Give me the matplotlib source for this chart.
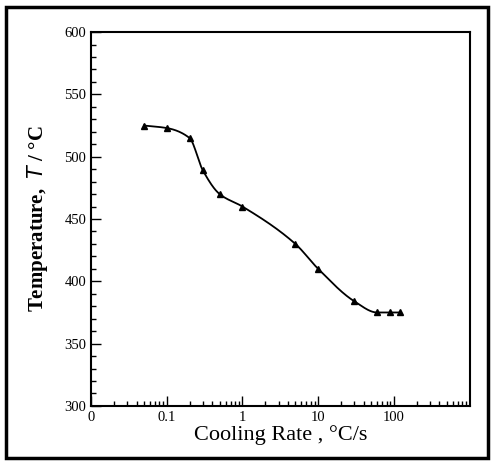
import numpy as np
import matplotlib.pyplot as plt
from matplotlib.patches import Rectangle
from matplotlib.ticker import FixedLocator, LogLocator, NullFormatter, MultipleLocator

# datos
rate = [0.05, 0.1, 0.2, 0.3, 0.5, 1, 5, 10, 30, 60, 90, 120]
temp = [525, 523, 515, 489, 470, 460, 430, 410, 384, 375, 375, 375]
xticks = [0.01, 0.1, 1, 10, 100]
xlabels = ["0", "0.1", "1", "10", "100"]

#curva suave tipo PCHIP en escala log
def pchip(x, y, xn):
    x = np.asarray(x, float)
    y = np.asarray(y, float)
    h = np.diff(x)
    d = np.diff(y) / h
    m = np.zeros_like(y)
    for k in range(1, len(x) - 1):
        if d[k-1] * d[k] > 0:
            w1 = 2*h[k] + h[k-1]
            w2 = h[k] + 2*h[k-1]
            m[k] = (w1 + w2) / (w1/d[k-1] + w2/d[k])
    m[0] = d[0]
    m[-1] = d[-1]
    idx = np.clip(np.searchsorted(x, xn) - 1, 0, len(h) - 1)
    t = (xn - x[idx]) / h[idx]
    h00 = 2*t**3 - 3*t**2 + 1
    h10 = t**3 - 2*t**2 + t
    h01 = -2*t**3 + 3*t**2
    h11 = t**3 - t**2
    return h00*y[idx] + h10*h[idx]*m[idx] + h01*y[idx+1] + h11*h[idx]*m[idx+1]

lx = np.log10(rate)
xs = np.linspace(lx[0], lx[-1], 400)
ys = pchip(lx, temp, xs)

plt.rcParams['font.family'] = ['Liberation Serif', 'DejaVu Serif']
fig = plt.figure(figsize=(4.93, 4.65), dpi=100)
ax = fig.add_axes([0.1846, 0.127, 0.768, 0.804])

ax.plot(10**xs, ys, color="black", lw=1.3)
ax.plot(rate, temp, linestyle="none", marker="^", color="black", ms=5)

ax.set_xscale("log")
ax.set_xlim(0.01, 1000)
ax.set_ylim(300, 600)
ax.xaxis.set_major_locator(FixedLocator(xticks))
ax.set_xticklabels(xlabels)
ax.xaxis.set_minor_locator(LogLocator(base=10, subs=np.arange(2, 10)))
ax.xaxis.set_minor_formatter(NullFormatter())
ax.yaxis.set_major_locator(MultipleLocator(50))
ax.yaxis.set_minor_locator(MultipleLocator(10))

ax.tick_params(which="both", direction="in", top=False, right=False, labelsize=10.5, width=1)
ax.tick_params(which="major", length=7)
ax.tick_params(which="minor", length=3.5)
for s in ax.spines.values():
    s.set_linewidth(1.5)

ax.set_ylabel("Temperature,  $\\it{T}$ / °C", fontsize=15, fontweight="bold", labelpad=10)
ax.set_xlabel("Cooling Rate , °C/s", fontsize=16, labelpad=1)

fig.patches.append(Rectangle((0.012, 0.016), 0.978, 0.968, transform=fig.transFigure,
                             fill=False, lw=2.5, edgecolor="black"))

plt.savefig("out.png", dpi=100)
